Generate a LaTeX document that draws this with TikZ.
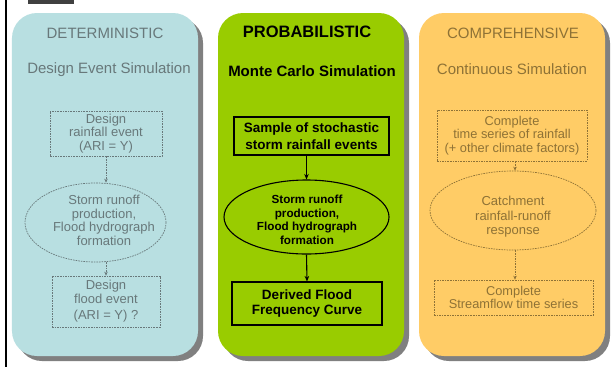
\documentclass[tikz,border=0pt]{standalone}
\usepackage{fontspec}
\setmainfont{Liberation Sans}
\usetikzlibrary{shapes.geometric,arrows.meta}
\definecolor{pblue}{RGB}{184,223,225}
\definecolor{pgreen}{RGB}{153,204,0}
\definecolor{porange}{RGB}{255,204,102}
\definecolor{pshadow}{RGB}{128,128,128}
\definecolor{ltxt}{RGB}{104,120,122}
\definecolor{rtxt}{RGB}{142,114,54}
\newcommand{\fsz}[2]{\fontsize{#1bp}{#2bp}\selectfont}
\begin{document}
\begin{tikzpicture}[x=1bp,y=-1bp,
  panel/.style={rectangle, rounded corners=25bp, minimum width=186bp, minimum height=343bp, inner sep=0pt},
  panelshadow/.style={panel, fill=pshadow},
  ttl/.style={font=\fsz{15}{18}},
  gbox/.style={rectangle, draw, dash pattern=on 1.6bp off 1bp, line width=0.7bp, inner sep=0pt, align=center},
  gell/.style={ellipse, draw, dash pattern=on 1.6bp off 1bp, line width=0.7bp, inner sep=0pt},
  garr/.style={dash pattern=on 1.6bp off 1bp, line width=0.7bp, -{Stealth[length=4bp,width=3.5bp]}},
  bbox/.style={rectangle, draw=black, line width=1.1bp, inner sep=0pt, align=center, font=\bfseries\fsz{13.5}{16.5}},
  barr/.style={draw=black, line width=1.1bp, -{Stealth[length=5.5bp,width=4.5bp]}},
  txt/.style={align=center, inner sep=0pt}
]
\useasboundingbox (0,0) rectangle (612,367);
\fill[white] (0,0) rectangle (612,367);
% left frame line and cropped fragment
\draw[line width=2bp] (6,0) -- (6,367);
\fill[black!75] (28,0) rectangle (74,4);

% panel shadows
\node[panelshadow] (sL) at (110,189.5) {};
\node[panelshadow] (sM) at (316,189.5) {};
\node[panelshadow] (sR) at (517,189.5) {};
% panels
\node[panel, fill=pblue] (pL) at (105,184.5) {};
\node[panel, fill=pgreen] (pM) at (311,184.5) {};
\node[panel, fill=porange] (pR) at (512,184.5) {};

% ---- Deterministic
\begin{scope}[every node/.append style={text=ltxt}]
\node[ttl] (tL1) at (105,33) {DETERMINISTIC};
\node[ttl] (tL2) at (109,70) {Design Event Simulation};
\node[gbox, draw=ltxt, minimum width=112bp, minimum height=45bp, font=\fsz{13}{13.5}] (bL1) at (106,133.5) {Design\\rainfall event\\(ARI = Y)};
\node[gell, draw=ltxt, minimum width=141bp, minimum height=79bp] (eL) at (95.5,222.5) {};
\node[txt, font=\fsz{13}{13.7}] (eLt) at (104,220.5) {Storm runoff\\production,\\Flood hydrograph\\formation};
\node[gbox, draw=ltxt, minimum width=108bp, minimum height=51bp, font=\fsz{13}{13.5}] (bL2) at (106,301.5) {Design\\flood event\\[3bp](ARI = Y) ?};
\draw[garr, ltxt] (bL1.south) -- (bL1.south |- eL.north);
\draw[garr, ltxt] (bL2.north |- eL.south) -- (bL2.north);
\end{scope}

% ---- Probabilistic
\node[font=\bfseries\fsz{16.5}{19}] (tM1) at (307,32) {PROBABILISTIC};
\node[font=\bfseries\fsz{15}{18}] (tM2) at (312,71) {Monte Carlo Simulation};
\node[bbox, minimum width=155bp, minimum height=38bp] (bM1) at (311.5,136) {Sample of stochastic\\storm rainfall events};
\node[ellipse, draw=black, line width=1.1bp, minimum width=165bp, minimum height=74bp, inner sep=0pt] (eM) at (306.5,217) {};
\node[txt, font=\bfseries\fsz{11.7}{13.5}] (eMt) at (307,220) {Storm runoff\\production,\\Flood hydrograph\\formation};
\node[bbox, minimum width=150bp, minimum height=43bp, font=\bfseries\fsz{13.5}{14}] (bM2) at (307,303.5) {Derived Flood\\Frequency Curve};
\draw[barr] (eM.north |- bM1.south) -- (eM.north);
\draw[barr] (eM.south) -- (bM2.north);

% ---- Comprehensive
\begin{scope}[every node/.append style={text=rtxt}]
\node[ttl] (tR1) at (513,33) {COMPREHENSIVE};
\node[ttl] (tR2) at (512,69) {Continuous Simulation};
\node[gbox, draw=rtxt, minimum width=150bp, minimum height=51bp, font=\fsz{12.8}{13.5}] (bR1) at (512,135.5) {Complete\\time series of rainfall\\(+ other climate factors)};
\node[gell, draw=rtxt, minimum width=166bp, minimum height=79bp] (eR) at (513,210.5) {};
\node[txt, font=\fsz{13}{14.5}] (eRt) at (513,217) {Catchment\\rainfall-runoff\\response};
\node[gbox, draw=rtxt, minimum width=159bp, minimum height=35bp, font=\fsz{12.8}{13}] (bR2) at (513.5,297.5) {Complete\\Streamflow time series};
\coordinate (aR1) at (515,161);
\draw[garr, rtxt] (bR1.south -| aR1) -- (eR.north -| aR1);
\draw[garr, rtxt] (eR.south -| aR1) -- (bR2.north -| aR1);
\end{scope}
\end{tikzpicture}
\end{document}
